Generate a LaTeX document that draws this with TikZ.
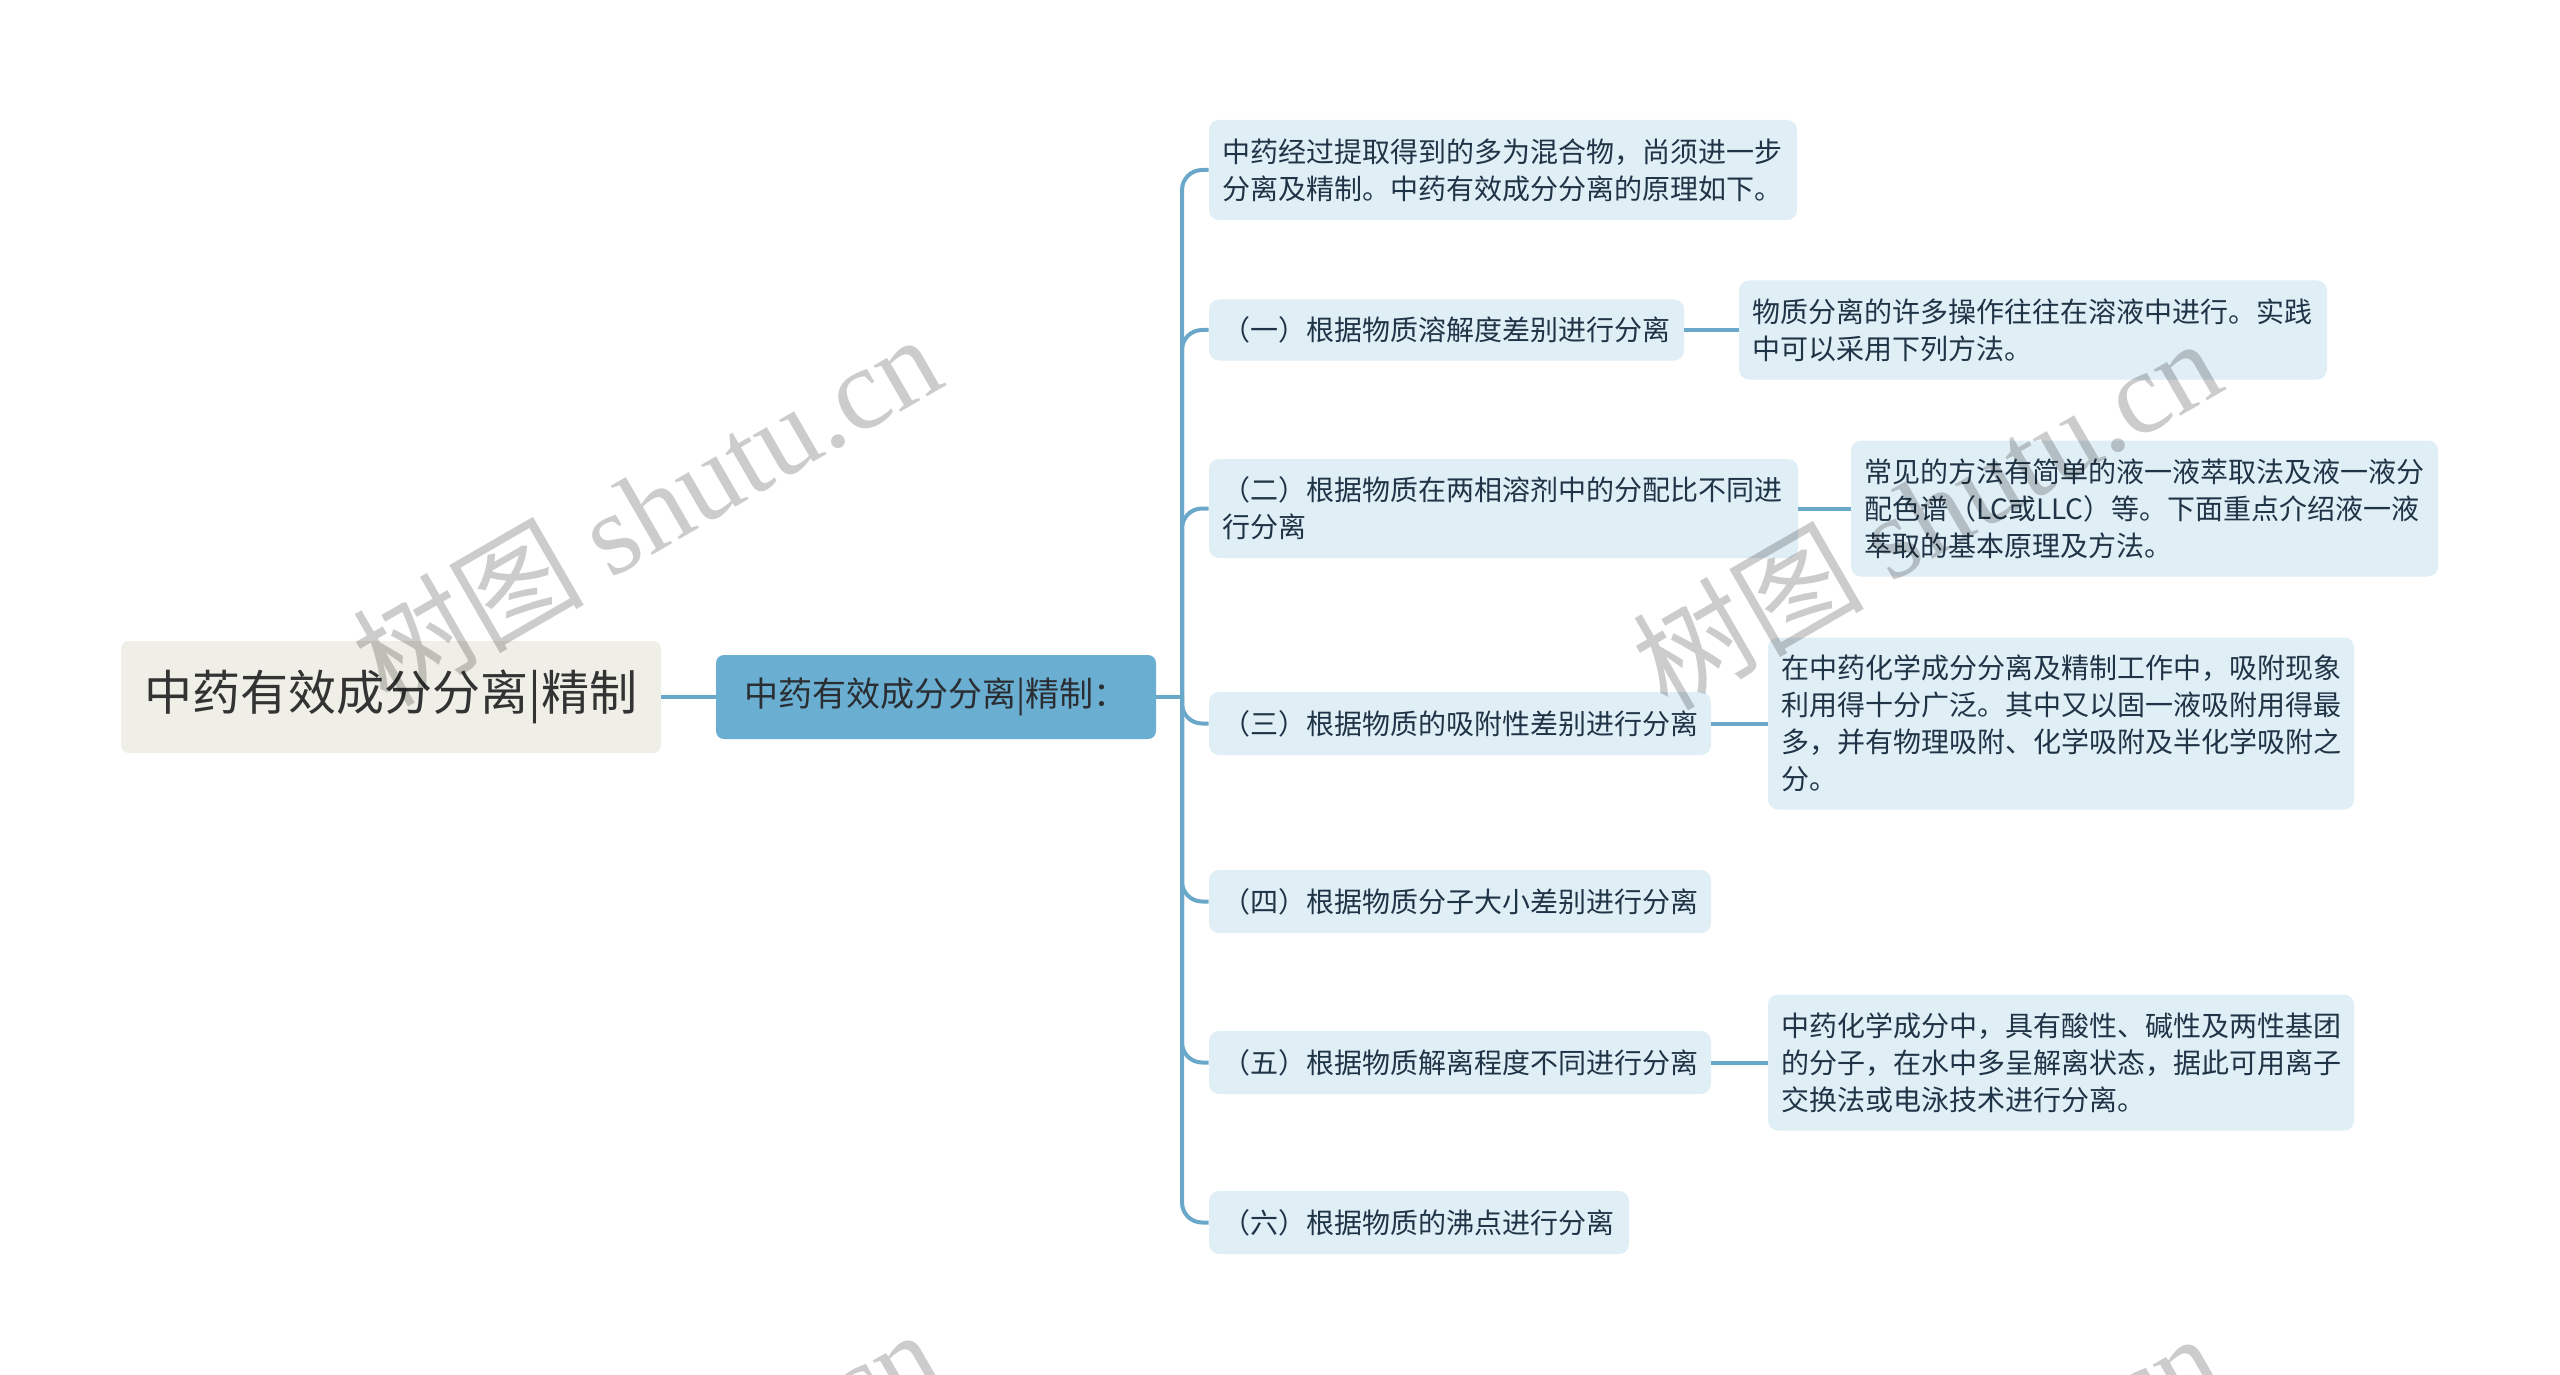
\documentclass[tikz,border=0pt]{standalone}
\usepackage{fontspec}
\setmainfont{Noto Sans CJK SC}
\newfontfamily\wmserif{Liberation Serif}
\definecolor{rootfill}{HTML}{EFEFE7}
\definecolor{roottext}{HTML}{333333}
\definecolor{lonefill}{HTML}{6AAFD2}
\definecolor{lonetext}{HTML}{2A2E33}
\definecolor{ltwofill}{HTML}{E0EEF6}
\definecolor{ltwotext}{HTML}{1F3446}
\definecolor{linkc}{HTML}{6AA8CA}
\begin{document}
\begin{tikzpicture}[x=0.5pt,y=-0.5pt,
  rootbox/.style={fill=rootfill, rounded corners=4pt, minimum width=270pt, minimum height=56pt, inner sep=0pt, text=roottext, font=\fontsize{24pt}{30pt}\selectfont},
  lonebox/.style={fill=lonefill, rounded corners=4pt, minimum width=220pt, minimum height=42pt, inner sep=0pt, text=lonetext, font=\fontsize{17pt}{21pt}\selectfont},
  ltwobox/.style={fill=ltwofill, rounded corners=5pt, inner xsep=6.5pt, inner ysep=0pt, align=left, text=ltwotext, font=\fontsize{14pt}{18.5pt}\selectfont},
  link/.style={draw=linkc, line width=2pt, rounded corners=10pt},
  wm/.style={rotate=30, text=black, text opacity=0.2, inner sep=0pt}
]
\fill[white] (0,0) rectangle (2560,1375);
\useasboundingbox (0,0) rectangle (2560,1375);

\node[rootbox] (root) at (391,697) {中药有效成分分离|精制};
\node[lonebox] (lone) at (936,697) {中药有效成分分离|精制：};

\node[ltwobox, text width=281pt, minimum height=50pt] (b0) at (1503,170)
  {中药经过提取得到的多为混合物，尚须进一步\\分离及精制。中药有效成分分离的原理如下。};
\node[ltwobox, text width=224.5pt, minimum height=30.5pt] (b1) at (1446.5,330)
  {（一）根据物质溶解度差别进行分离};
\node[ltwobox, text width=281.5pt, minimum height=49.5pt] (b2) at (1503.5,508.5)
  {（二）根据物质在两相溶剂中的分配比不同进\\行分离};
\node[ltwobox, text width=238pt, minimum height=31.5pt] (b3) at (1460,723.5)
  {（三）根据物质的吸附性差别进行分离};
\node[ltwobox, text width=238pt, minimum height=31.5pt] (b4) at (1460,901.5)
  {（四）根据物质分子大小差别进行分离};
\node[ltwobox, text width=238pt, minimum height=31.5pt] (b5) at (1460,1062.5)
  {（五）根据物质解离程度不同进行分离};
\node[ltwobox, text width=197pt, minimum height=31.5pt] (b6) at (1419,1222.5)
  {（六）根据物质的沸点进行分离};

\node[ltwobox, text width=281pt, minimum height=49.5pt] (c1) at (2033,330)
  {物质分离的许多操作往往在溶液中进行。实践\\中可以采用下列方法。};
\node[ltwobox, text width=280.5pt, minimum height=68pt] (c2) at (2144.5,508.5)
  {常见的方法有简单的液一液萃取法及液一液分\\配色谱（LC或LLC）等。下面重点介绍液一液\\萃取的基本原理及方法。};
\node[ltwobox, text width=280pt, minimum height=86pt] (c3) at (2061,723.5)
  {在中药化学成分分离及精制工作中，吸附现象\\利用得十分广泛。其中又以固一液吸附用得最\\多，并有物理吸附、化学吸附及半化学吸附之\\分。};
\node[ltwobox, text width=280pt, minimum height=68pt] (c5) at (2061,1062.5)
  {中药化学成分中，具有酸性、碱性及两性基团\\的分子，在水中多呈解离状态，据此可用离子\\交换法或电泳技术进行分离。};

\coordinate (hub) at (1182,697);
\draw[link] (root.east) -- (lone.west);
\draw[link] (lone.east) -- (hub);
\foreach \b in {b0,b1,b2,b3,b4,b5,b6}
  \draw[link] (hub) |- (\b.west);
\draw[link] (b1.east) -- (c1.west);
\draw[link] (b2.east) -- (c2.west);
\draw[link] (b3.east) -- (c3.west);
\draw[link] (b5.east) -- (c5.west);

\begin{scope}
\clip (0,0) rectangle (2560,1375);
\node[wm] (wma) at (646,508) {\fontsize{58pt}{58pt}\selectfont 树图 {\wmserif shutu.cn}};
\node[wm] (wmb) at (1926,512) {\fontsize{58pt}{58pt}\selectfont 树图 {\wmserif shutu.cn}};
\node[wm] (wmc) at (645,1503) {\fontsize{58pt}{58pt}\selectfont 树图 {\wmserif shutu.cn}};
\node[wm] (wmd) at (1925,1507) {\fontsize{58pt}{58pt}\selectfont 树图 {\wmserif shutu.cn}};
\end{scope}
\end{tikzpicture}
\end{document}
